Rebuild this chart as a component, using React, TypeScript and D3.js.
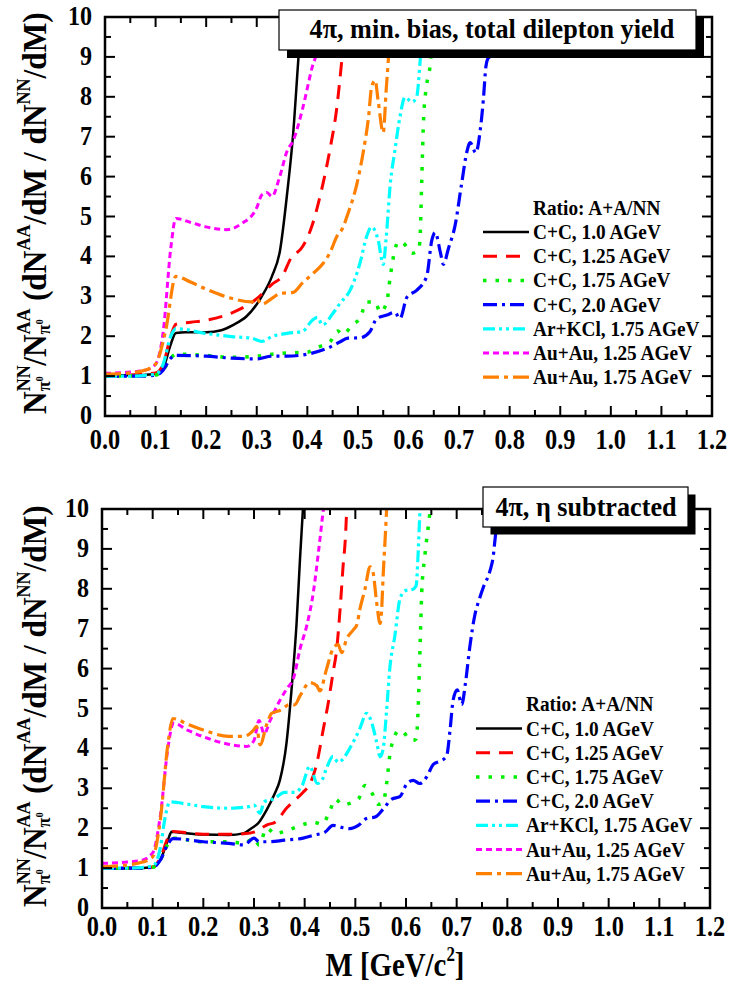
import React, { useLayoutEffect, useRef, useState } from 'react';
import * as d3 from 'd3';

type Pt = [number, number];

// ---------- data ----------
const xTickValues = [0, 0.1, 0.2, 0.3, 0.4, 0.5, 0.6, 0.7, 0.8, 0.9, 1.0, 1.1, 1.2];
const xTickLabels = ['0.0', '0.1', '0.2', '0.3', '0.4', '0.5', '0.6', '0.7', '0.8', '0.9', '1.0', '1.1', '1.2'];
const yTickValues = [0, 1, 2, 3, 4, 5, 6, 7, 8, 9, 10];
const legendTitle = 'Ratio: A+A/NN';
const seriesNames = [
  'C+C, 1.0 AGeV',
  'C+C, 1.25 AGeV',
  'C+C, 1.75 AGeV',
  'C+C, 2.0 AGeV',
  'Ar+KCl, 1.75 AGeV',
  'Au+Au, 1.25 AGeV',
  'Au+Au, 1.75 AGeV',
];
const topTitle = '4π, min. bias, total dilepton yield';
const bottomTitle = '4π, η subtracted';

// top panel: total dilepton yield
const topCC10: Pt[] = [[0,1.02],[0.05,1.02],[0.1,1.05],[0.115,1.2],[0.13,1.8],[0.14,2.08],[0.16,2.1],[0.2,2.1],[0.23,2.15],[0.253,2.28],[0.28,2.5],[0.3,2.8],[0.31,3.0],[0.33,3.5],[0.346,4.15],[0.36,5.57],[0.372,7.08],[0.382,8.9],[0.39,10.3]];
const topCC125: Pt[] = [[0,1.02],[0.05,1.03],[0.1,1.08],[0.115,1.3],[0.13,2.0],[0.14,2.3],[0.17,2.35],[0.2,2.4],[0.25,2.58],[0.3,2.94],[0.33,3.3],[0.35,3.5],[0.37,4.0],[0.38,4.1],[0.388,4.2],[0.41,4.8],[0.425,5.5],[0.445,6.7],[0.458,7.7],[0.468,8.9],[0.478,10.3]];
const topCC175: Pt[] = [[0,1.0],[0.05,1.0],[0.1,1.03],[0.115,1.15],[0.13,1.45],[0.14,1.55],[0.2,1.52],[0.25,1.47],[0.3,1.5],[0.33,1.55],[0.36,1.58],[0.4,1.6],[0.42,1.72],[0.445,1.86],[0.46,2.13],[0.47,2.04],[0.49,2.3],[0.504,2.44],[0.517,2.86],[0.534,2.86],[0.544,2.6],[0.557,2.86],[0.564,3.5],[0.573,4.16],[0.58,4.37],[0.59,4.33],[0.607,4.08],[0.62,4.16],[0.623,4.5],[0.626,5.82],[0.63,7.49],[0.636,8.3],[0.643,8.8],[0.652,10.3]];
const topCC20: Pt[] = [[0,1.0],[0.05,1.0],[0.1,1.02],[0.115,1.15],[0.13,1.45],[0.14,1.52],[0.2,1.5],[0.25,1.45],[0.3,1.43],[0.33,1.5],[0.36,1.5],[0.4,1.55],[0.44,1.7],[0.465,1.86],[0.48,1.95],[0.504,1.96],[0.524,2.12],[0.537,2.44],[0.557,2.53],[0.573,2.6],[0.583,2.44],[0.597,2.98],[0.616,3.15],[0.636,3.5],[0.646,4.4],[0.653,4.6],[0.663,4.1],[0.669,3.8],[0.679,4.2],[0.692,4.77],[0.705,5.82],[0.715,6.6],[0.722,6.85],[0.733,6.6],[0.742,7.18],[0.748,7.93],[0.753,8.76],[0.757,8.96],[0.765,9.05],[0.775,9.6],[0.785,10.3]];
const topArKCl: Pt[] = [[0,1.0],[0.05,1.0],[0.1,1.05],[0.115,1.3],[0.13,2.0],[0.14,2.19],[0.2,2.07],[0.25,1.99],[0.29,1.95],[0.31,1.87],[0.33,1.99],[0.36,2.07],[0.39,2.12],[0.41,2.4],[0.42,2.47],[0.43,2.28],[0.45,2.56],[0.465,2.83],[0.485,3.16],[0.504,3.83],[0.517,4.49],[0.527,4.74],[0.54,4.41],[0.55,3.8],[0.556,4.49],[0.564,5.82],[0.573,6.65],[0.583,7.49],[0.593,7.99],[0.607,7.87],[0.616,7.99],[0.623,8.9],[0.63,10.3]];
const topAuAu125: Pt[] = [[0,1.07],[0.05,1.1],[0.08,1.15],[0.1,1.3],[0.115,2.1],[0.13,4.2],[0.14,4.95],[0.17,4.85],[0.2,4.74],[0.24,4.67],[0.27,4.82],[0.3,5.22],[0.31,5.54],[0.32,5.6],[0.33,5.5],[0.345,5.98],[0.36,6.64],[0.372,6.9],[0.39,7.67],[0.41,8.76],[0.42,9.2],[0.43,10.3]];
const topAuAu175: Pt[] = [[0,1.05],[0.05,1.08],[0.08,1.15],[0.1,1.3],[0.12,2.15],[0.14,3.5],[0.17,3.35],[0.2,3.18],[0.25,2.95],[0.29,2.86],[0.3,2.94],[0.31,2.8],[0.33,2.95],[0.346,3.07],[0.372,3.1],[0.39,3.33],[0.411,3.57],[0.431,3.82],[0.445,4.1],[0.458,4.49],[0.471,4.74],[0.478,4.99],[0.498,5.82],[0.511,6.65],[0.521,7.49],[0.527,8.24],[0.534,8.41],[0.54,7.9],[0.55,7.1],[0.556,8.2],[0.56,8.9],[0.566,10.3]];

// bottom panel: eta subtracted
const botCC10: Pt[] = [[0,0.99],[0.05,0.99],[0.1,1.02],[0.115,1.2],[0.13,1.7],[0.1375,1.91],[0.16,1.88],[0.2,1.84],[0.25,1.83],[0.279,1.87],[0.295,2.0],[0.308,2.12],[0.325,2.46],[0.341,2.87],[0.351,3.2],[0.364,4.12],[0.374,5.46],[0.384,7.13],[0.391,8.8],[0.398,10.3]];
const botCC125: Pt[] = [[0,1.0],[0.05,1.0],[0.1,1.03],[0.115,1.25],[0.13,1.75],[0.14,1.92],[0.17,1.88],[0.2,1.85],[0.25,1.85],[0.28,1.86],[0.302,1.91],[0.325,2.08],[0.343,2.16],[0.364,2.5],[0.378,2.67],[0.397,2.9],[0.41,3.1],[0.424,3.63],[0.437,4.5],[0.446,5.1],[0.456,5.9],[0.463,6.46],[0.47,7.5],[0.476,8.6],[0.48,9.2],[0.484,10.3]];
const botCC175: Pt[] = [[0,1.0],[0.05,1.0],[0.1,1.02],[0.115,1.2],[0.13,1.6],[0.14,1.75],[0.2,1.66],[0.25,1.66],[0.28,1.62],[0.3,1.75],[0.31,1.58],[0.325,2.0],[0.343,1.85],[0.355,1.9],[0.378,2.0],[0.404,2.12],[0.417,2.15],[0.434,2.1],[0.45,2.44],[0.46,2.73],[0.476,2.58],[0.486,2.61],[0.506,2.73],[0.519,3.07],[0.532,2.9],[0.545,2.6],[0.555,2.65],[0.562,3.15],[0.568,3.82],[0.578,4.32],[0.585,4.45],[0.595,4.41],[0.605,4.24],[0.614,4.2],[0.62,4.24],[0.624,5.0],[0.628,6.66],[0.631,7.9],[0.637,8.8],[0.647,9.9],[0.65,10.3]];
const botCC20: Pt[] = [[0,1.0],[0.05,1.0],[0.1,1.02],[0.115,1.2],[0.13,1.6],[0.14,1.74],[0.2,1.66],[0.25,1.62],[0.28,1.58],[0.3,1.75],[0.31,1.66],[0.33,1.66],[0.36,1.7],[0.397,1.75],[0.42,1.83],[0.44,1.9],[0.456,2.07],[0.473,2.02],[0.489,1.99],[0.506,2.07],[0.522,2.24],[0.539,2.28],[0.555,2.48],[0.572,2.73],[0.588,2.79],[0.601,3.1],[0.614,3.2],[0.627,3.12],[0.641,3.29],[0.654,3.6],[0.667,3.68],[0.68,3.8],[0.687,4.47],[0.693,5.21],[0.701,5.47],[0.71,5.1],[0.717,5.6],[0.726,6.55],[0.736,7.35],[0.745,7.75],[0.753,8.05],[0.766,8.46],[0.772,8.8],[0.776,9.27],[0.782,9.9],[0.786,10.3]];
const botArKCl: Pt[] = [[0,1.0],[0.05,1.0],[0.1,1.05],[0.115,1.5],[0.125,2.3],[0.134,2.66],[0.17,2.6],[0.2,2.54],[0.25,2.5],[0.29,2.54],[0.3,2.58],[0.312,2.37],[0.32,2.66],[0.34,2.74],[0.36,2.9],[0.38,2.9],[0.395,3.07],[0.41,3.55],[0.425,3.12],[0.434,3.2],[0.443,3.5],[0.456,3.8],[0.466,3.65],[0.473,3.7],[0.489,4.0],[0.509,4.5],[0.522,4.88],[0.532,4.66],[0.542,4.16],[0.549,3.79],[0.555,4.0],[0.562,5.0],[0.568,6.0],[0.578,6.82],[0.588,7.74],[0.598,7.95],[0.614,7.99],[0.62,8.08],[0.624,8.9],[0.627,9.8],[0.629,10.3]];
const botAuAu125: Pt[] = [[0,1.12],[0.05,1.15],[0.08,1.2],[0.1,1.38],[0.115,2.3],[0.13,4.0],[0.141,4.63],[0.17,4.45],[0.207,4.26],[0.256,4.09],[0.286,4.05],[0.3,4.2],[0.31,4.7],[0.32,4.37],[0.332,4.7],[0.351,5.2],[0.365,5.5],[0.378,5.76],[0.391,6.5],[0.404,7.07],[0.417,7.9],[0.427,8.9],[0.437,10],[0.44,10.3]];
const botAuAu175: Pt[] = [[0,1.03],[0.05,1.08],[0.08,1.15],[0.1,1.28],[0.115,2.2],[0.13,4.1],[0.14,4.75],[0.17,4.6],[0.2,4.46],[0.25,4.3],[0.28,4.3],[0.299,4.46],[0.305,4.55],[0.312,4.09],[0.325,4.6],[0.335,4.88],[0.351,4.95],[0.371,5.1],[0.38,5.09],[0.391,5.32],[0.41,5.65],[0.424,5.57],[0.43,5.44],[0.443,5.98],[0.456,6.5],[0.466,6.6],[0.473,6.4],[0.483,6.75],[0.496,6.97],[0.503,7.1],[0.509,7.49],[0.519,7.99],[0.529,8.55],[0.535,8.41],[0.542,7.66],[0.549,7.13],[0.552,7.5],[0.555,8.35],[0.559,9.3],[0.563,10.3]];

const topSeries = [topCC10, topCC125, topCC175, topCC20, topArKCl, topAuAu125, topAuAu175];
const botSeries = [botCC10, botCC125, botCC175, botCC20, botArKCl, botAuAu125, botAuAu175];

// ---------- styles ----------
const FONT = "'Liberation Serif', 'Times New Roman', Times, serif";
const styles = [
  { color: '#000000', dash: 'none', w: 2.5 },
  { color: '#ff0000', dash: '14,9', w: 3 },
  { color: '#00ee00', dash: '3.5,9', w: 3.5 },
  { color: '#0000ff', dash: '14,5,3,5', w: 3.2 },
  { color: '#00ffff', dash: '12,4,3,4,3,4', w: 3.2 },
  { color: '#ff00ff', dash: '6,4', w: 3 },
  { color: '#ff8000', dash: '16,5,4,5', w: 3.2 },
];

function SText({ x, y, sx = 1, anchor = 'start', size, children }: any) {
  return (
    <text
      transform={`translate(${x},${y}) scale(${sx},1)`}
      textAnchor={anchor}
      fontFamily={FONT}
      fontWeight="bold"
      fontSize={size}
      fill="#000"
    >
      {children}
    </text>
  );
}

function FitText({ x, y, width, rotate = 0, size, children }: any) {
  const ref = useRef<SVGTextElement>(null);
  const [m, setM] = useState({ s: 1, off: 0 });
  useLayoutEffect(() => {
    const el = ref.current;
    if (!el) return;
    const b = el.getBBox();
    if (b.width > 0) setM({ s: width / b.width, off: -(b.x + b.width / 2) });
  }, [width]);
  return (
    <g transform={`translate(${x},${y}) rotate(${rotate}) scale(${m.s},1) translate(${m.off},0)`}>
      <text ref={ref} x={0} y={0} fontFamily={FONT} fontWeight="bold" fontSize={size} fill="#000">
        {children}
      </text>
    </g>
  );
}

function YTitle({ x, y }: { x: number; y: number }) {
  const sup = 19;
  const nnW = 27.4;
  return (
    <FitText x={x} y={y} width={402} rotate={-90} size={33}>
      <tspan>N</tspan>
      <tspan fontSize={sup} dy={-16}>NN</tspan>
      <tspan fontSize={sup} dx={-nnW} dy={20}>π</tspan>
      <tspan fontSize={11} dy={-7}>0</tspan>
      <tspan dx={11} dy={3}>/N</tspan>
      <tspan fontSize={sup} dy={-16}>AA</tspan>
      <tspan fontSize={sup} dx={-nnW} dy={20}>π</tspan>
      <tspan fontSize={11} dy={-7}>0</tspan>
      <tspan dx={11} dy={3}>{' (dN'}</tspan>
      <tspan fontSize={sup} dy={-16}>AA</tspan>
      <tspan dy={16}>{'/dM / dN'}</tspan>
      <tspan fontSize={sup} dy={-16}>NN</tspan>
      <tspan dy={16}>{'/dM)'}</tspan>
    </FitText>
  );
}

interface PanelProps {
  l: number; r: number; t: number; b: number;
  data: Pt[][];
  id: string;
  labelDy: number;
  legX: number; legLine0: number; legLine1: number; legY0: number; legDy: number;
  box: { x: number; y: number; w: number; h: number; off: number; text: string; tx: number; ty: number };
}

function Panel(p: PanelProps) {
  const x = d3.scaleLinear().domain([0, 1.2]).range([p.l, p.r]);
  const y = d3.scaleLinear().domain([0, 10]).range([p.b, p.t]);
  const line = d3.line<Pt>().x((d) => x(d[0])).y((d) => y(d[1])).curve(d3.curveMonotoneX);
  const majX = xTickValues;
  const minX = d3.range(0.05, 1.2, 0.1);
  const majY = yTickValues;
  const minY = d3.range(0.5, 10, 1);
  const ML = 10, ml = 6;
  return (
    <g>
      <defs>
        <clipPath id={p.id}>
          <rect x={p.l} y={p.t} width={p.r - p.l} height={p.b - p.t} />
        </clipPath>
      </defs>
      <g clipPath={`url(#${p.id})`}>
        {p.data.map((d, i) => (
          <path key={i} d={line(d) || ''} fill="none" stroke={styles[i].color}
            strokeWidth={styles[i].w} strokeDasharray={styles[i].dash} />
        ))}
      </g>
      {/* frame & ticks */}
      <g stroke="#000" strokeWidth={2}>
        {majX.map((v) => (
          <g key={'mx' + v}>
            <line x1={x(v)} x2={x(v)} y1={p.b} y2={p.b - ML} />
            <line x1={x(v)} x2={x(v)} y1={p.t} y2={p.t + ML} />
          </g>
        ))}
        {minX.map((v) => (
          <g key={'nx' + v}>
            <line x1={x(v)} x2={x(v)} y1={p.b} y2={p.b - ml} />
            <line x1={x(v)} x2={x(v)} y1={p.t} y2={p.t + ml} />
          </g>
        ))}
        {majY.map((v) => (
          <g key={'my' + v}>
            <line x1={p.l} x2={p.l + ML} y1={y(v)} y2={y(v)} />
            <line x1={p.r} x2={p.r - ML} y1={y(v)} y2={y(v)} />
          </g>
        ))}
        {minY.map((v) => (
          <g key={'ny' + v}>
            <line x1={p.l} x2={p.l + ml} y1={y(v)} y2={y(v)} />
            <line x1={p.r} x2={p.r - ml} y1={y(v)} y2={y(v)} />
          </g>
        ))}
      </g>
      <rect x={p.l} y={p.t} width={p.r - p.l} height={p.b - p.t} fill="none" stroke="#000" strokeWidth={2.5} />
      {/* tick labels */}
      {majX.map((v, i) => (
        <SText key={'lx' + v} x={x(v)} y={p.b + p.labelDy} anchor="middle" size={29} sx={0.84}>
          {xTickLabels[i]}
        </SText>
      ))}
      {majY.map((v) => (
        <SText key={'ly' + v} x={p.l - 13} y={y(v) + 8} anchor="end" size={28} sx={0.86}>
          {String(v)}
        </SText>
      ))}
      {/* legend */}
      <SText x={p.legX} y={p.legY0 - p.legDy + 7} size={21} sx={0.92}>{legendTitle}</SText>
      {seriesNames.map((name, i) => {
        const yy = p.legY0 + i * p.legDy;
        return (
          <g key={name}>
            <line x1={p.legLine0} x2={p.legLine1} y1={yy} y2={yy} stroke={styles[i].color}
              strokeWidth={styles[i].w} strokeDasharray={styles[i].dash} />
            <SText x={p.legX} y={yy + 7} size={21} sx={0.92}>{name}</SText>
          </g>
        );
      })}
      {/* title box */}
      <rect x={p.box.x + p.box.off} y={p.box.y + p.box.off} width={p.box.w} height={p.box.h} fill="#000" />
      <rect x={p.box.x} y={p.box.y} width={p.box.w} height={p.box.h} fill="#fff" stroke="#000" strokeWidth={1.2} />
      <SText x={p.box.tx} y={p.box.ty} anchor="middle" size={27} sx={0.97}>{p.box.text}</SText>
    </g>
  );
}

export default function App() {
  return (
    <svg width={729} height={990} style={{ position: 'absolute', left: 0, top: 0, background: '#fff' }}>
      <rect x={0} y={0} width={729} height={990} fill="#fff" />
      <Panel
        id="clipTop" l={105} r={712} t={17} b={416} data={topSeries} labelDy={33}
        legX={533} legLine0={483} legLine1={529} legY0={232} legDy={24.2}
        box={{ x: 279, y: 10, w: 417, h: 40, off: 8, text: topTitle, tx: 492, ty: 38 }}
      />
      <Panel
        id="clipBot" l={102} r={710} t={509} b={908} data={botSeries} labelDy={28}
        legX={526} legLine0={476} legLine1={522} legY0={728.5} legDy={24.2}
        box={{ x: 483, y: 487, w: 205, h: 40, off: 7.5, text: bottomTitle, tx: 586, ty: 516 }}
      />
      <YTitle x={46} y={213} />
      <YTitle x={46} y={706} />
      <FitText x={395} y={976} width={139} size={34}>
        <tspan>M [GeV/c</tspan>
        <tspan fontSize={20} dy={-15}>2</tspan>
        <tspan dy={15}>]</tspan>
      </FitText>
    </svg>
  );
}
